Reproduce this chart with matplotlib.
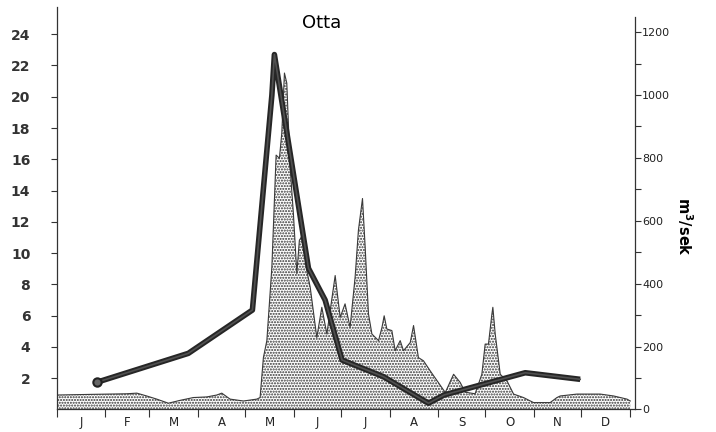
import matplotlib.pyplot as plt

plt.rcParams.update({
    'font.family': 'DejaVu Sans',
    'hatch.linewidth': 1.0,
})

# month boundaries (day of year) and labels
month_edges = [0, 31, 59, 90, 120, 151, 181, 212, 243, 273, 304, 334, 365]
month_labels = ['J', 'F', 'M', 'A', 'M', 'J', 'J', 'A', 'S', 'O', 'N', 'D']

# daily discharge, m3/sek (right axis)
flow_day = [0, 21.2, 44.6, 51, 57.3, 63.7, 71.1, 78.5, 87, 95.6, 101.9, 105.1,
            110.4, 118.9, 127.4, 129.5, 131.6, 133.8, 137, 139.7, 141.8, 143.3,
            145, 146.5, 148.6, 150.7, 152.9, 154.5, 157.1, 159.2, 161.4, 165.6,
            168.8, 172, 177.3, 180.5, 183.6, 186.8, 190, 192.1, 194.7, 196.4,
            198.5, 200.7, 204.9, 207.1, 208.5, 210.2, 213.4, 215.5, 218.7, 220.8,
            225.1, 227.2, 230.3, 233.5, 237.8, 247.4, 252.7, 256.9, 260.1, 266.4,
            270.7, 272.8, 274.9, 277.1, 277.7, 279.2, 282.4, 286.7, 290.9, 297.2,
            303.6, 314.2, 318.5, 320.6, 331.2, 346.1, 354.6, 363.1, 365.2]
flow_m3s = [46, 48, 50, 52, 43, 33, 20, 29, 38, 40, 46, 52,
            33, 27, 33, 38, 165, 219, 453, 809, 799, 878,
            1070, 1038, 772, 623, 432, 538, 559, 442, 389, 229,
            325, 240, 426, 293, 336, 261, 421, 570, 671, 516,
            304, 240, 219, 261, 298, 256, 251, 187, 219, 187,
            213, 267, 165, 155, 123, 54, 112, 86, 55, 50,
            112, 208, 208, 304, 325, 240, 112, 91, 49, 38,
            22, 22, 38, 43, 49, 49, 43, 33, 27]

# sample series (left axis)
line_day = [25.5, 83.8, 124.6, 137, 138.6, 160.3, 170.9, 181.7, 208, 236.7, 246.7, 298.3, 333.3]
line_val = [1.74, 3.59, 6.36, 20.1, 22.7, 9.03, 7.0, 3.16, 2.1, 0.40, 0.93, 2.35, 1.93]

left_ticks = [2, 4, 6, 8, 10, 12, 14, 16, 18, 20, 22, 24]
right_ticks = [0, 200, 400, 600, 800, 1000, 1200]

fig = plt.figure(figsize=(7.16, 4.32), dpi=100)
ax = fig.add_axes([0.0792, 0.0521, 0.8081, 0.9317])
ax2 = ax.twinx()

# discharge area with stipple
ax2.fill_between(flow_day, flow_m3s, 0, facecolor='white', edgecolor='#333333',
                 hatch='......', linewidth=0)
ax2.plot(flow_day, flow_m3s, color='#3a3a3a', lw=0.8)

# thick line on top
ax.set_zorder(ax2.get_zorder() + 1)
ax.patch.set_visible(False)
ax.plot(line_day, line_val, color='#262626', lw=4.0, solid_joinstyle='round',
        solid_capstyle='butt', zorder=3)
ax.plot(line_day, line_val, color='#505050', lw=1.2, solid_joinstyle='round', zorder=4)
ax.plot(line_day[:1], line_val[:1], 'o', ms=6, mfc='#666666', mec='#222222', mew=1.5, zorder=5)

ax.set_xlim(0, 368.4)
ax.set_ylim(0, 25.74)
ax2.set_ylim(0, 1280)

for s in ['top', 'right']:
    ax.spines[s].set_visible(False)
for s in ['top', 'left', 'bottom']:
    ax2.spines[s].set_visible(False)
ax2.spines['right'].set_bounds(0, 1248)
for sp in [ax.spines['left'], ax.spines['bottom'], ax2.spines['right']]:
    sp.set_color('#333333')
    sp.set_linewidth(0.9)

# left axis
ax.set_yticks(left_ticks)
ax.set_yticklabels([str(t) for t in left_ticks], fontweight='bold', fontsize=10, color='#222222')
ax.tick_params(axis='y', direction='out', length=4, width=0.8, pad=15, colors='#333333')

# months
ax.set_xticks(month_edges)
ax.set_xticklabels([])
mids = [(month_edges[i] + month_edges[i + 1]) / 2 for i in range(12)]
ax.set_xticks(mids, minor=True)
ax.set_xticklabels(month_labels, minor=True, fontsize=8.5, color='#222222')
ax.tick_params(axis='x', which='major', direction='out', length=6, width=0.8, color='#333333')
ax.tick_params(axis='x', which='minor', length=0, pad=5)

# right axis
ax2.set_yticks(right_ticks)
ax2.set_yticks(range(100, 1300, 200), minor=True)
ax2.tick_params(axis='y', which='both', direction='out', length=4, width=0.8,
                pad=1, labelsize=8, colors='#333333')
for lab in ax2.get_yticklabels():
    lab.set_color('#222222')

fig.text(321.7 / 716, 1 - 23.3 / 432, 'Otta', ha='center', va='center', fontsize=13)
fig.text(685 / 716, 1 - 226 / 432, r'm$^{\mathbf{3}}$/sek', rotation=270,
         ha='center', va='center', fontsize=10.5, fontweight='bold')

fig.savefig('out.png', dpi=100)
